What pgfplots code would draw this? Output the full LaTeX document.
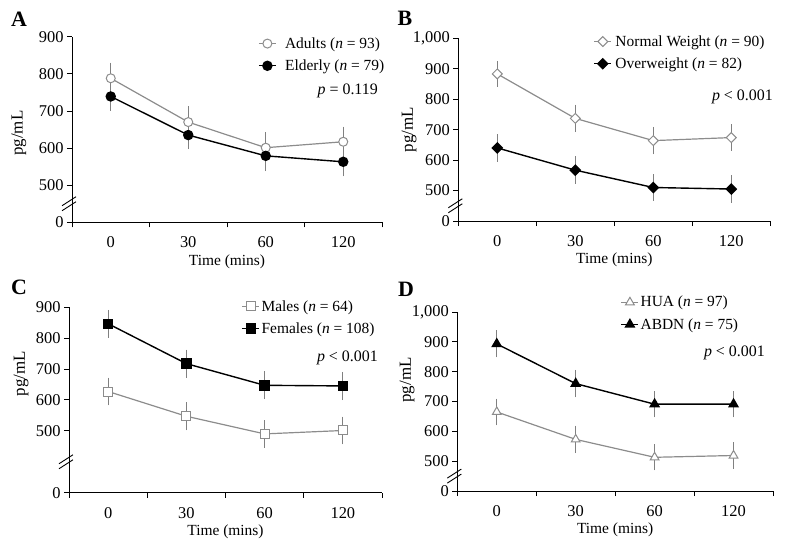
\documentclass[border=0pt]{standalone}
\usepackage{fontspec}
\setmainfont{Liberation Serif}
\usepackage{pgfplots}
\pgfplotsset{compat=1.18}

\definecolor{lgray}{HTML}{8C8C8C}
\definecolor{ebar}{HTML}{808080}

\newcommand{\fs}{\fontsize{15.5}{18}\selectfont}
\newcommand{\ft}{\fontsize{16.5}{19}\selectfont}

\pgfplotsset{
  panel/.style={
    scale only axis,
    clip=false,
    axis lines=left,
    axis line style={-, line width=0.8bp, black},
    xmin=-0.5, xmax=3.5,
    xtick={-0.5,0.5,1.5,2.5,3.5},
    xticklabels={},
    extra x ticks={0,1,2,3},
    extra x tick labels={0,30,60,120},
    extra x tick style={major tick length=0pt,
      xticklabel style={font=\ft, yshift=-11bp}},
    tick align=outside,
    major tick length=5bp,
    tick style={black, line width=0.8bp},
    yticklabel style={font=\ft},
    xlabel={Time (mins)},
    ylabel={pg/mL},
    xlabel style={font=\fs, at={(axis description cs:0.5,0)}, anchor=center, yshift=-39bp},
    legend style={draw=none, fill=none, font=\fs, anchor=north west,
      inner sep=0pt, nodes={inner sep=1.5bp, font=\fs}, row sep=7bp},
    legend cell align=left,
    legend image code/.code={\draw[#1, mark repeat=2, mark phase=2]
      plot coordinates {(0bp,0bp) (8.5bp,0bp) (17bp,0bp)};},
    error bars/y dir=both,
    error bars/y explicit,
    error bars/error bar style={ebar, line width=0.8bp},
    error bars/error mark options={ebar, line width=0.8bp, mark size=3bp},
  },
  gline/.style={lgray, line width=1.2bp,
    mark options={solid, fill=white, draw=lgray, line width=1bp}},
  bline/.style={black, line width=1.4bp,
    mark options={solid, fill=black, draw=black}},
}

% axis break: two short slashes across the y axis
\newcommand{\ybreak}[1]{%
  \draw[black, line width=0.9bp] ([shift={(-10bp,-7bp)}]axis cs:-0.5,#1) -- ++(14bp,9bp);
  \draw[black, line width=0.9bp] ([shift={(-10bp,-2bp)}]axis cs:-0.5,#1) -- ++(14bp,9bp);
}

\begin{document}
\begin{tikzpicture}
\path[use as bounding box] (0,0) rectangle (791bp,-545bp);

% ---- A ----
\begin{axis}[panel, at={(72bp,-222.3bp)}, anchor=south west,
  width=310bp, height=185.6bp,
  ymin=400, ymax=900,
  ytick={400,500,600,700,800,900},
  yticklabels={0,500,600,700,800,900},
  ylabel style={font=\fontsize{17}{20}\selectfont, at={(axis description cs:-0.171,0.48)}, anchor=center},
  legend style={at={(0.60,1.005)}, /tikz/every odd column/.append style={column sep=7bp}}]
\addplot[gline, mark=*, mark size=4.5bp] coordinates {
  (0,788) +- (0,34) (1,670) +- (0,35) (2,601) +- (0,33) (3,617) +- (0,33)};
\addplot[bline, mark=*, mark size=4.5bp] coordinates {
  (0,739) +- (0,31) (1,635) +- (0,30) (2,579) +- (0,33) (3,563) +- (0,31)};
\legend{{\fs Adults (\textit{n} = 93)}, {\fs Elderly (\textit{n} = 79)}}
\ybreak{450}
\end{axis}

% ---- B ----
\begin{axis}[panel, at={(458.3bp,-221bp)}, anchor=south west,
  width=312bp, height=182.7bp,
  ymin=400, ymax=1000,
  ytick={400,500,600,700,800,900,1000},
  yticklabels={0,500,600,700,800,900,{1,000}},
  ylabel style={font=\fontsize{17}{20}\selectfont, at={(axis description cs:-0.158,0.5)}, anchor=center},
  legend style={at={(0.433,1.025)}, /tikz/every odd column/.append style={column sep=2bp}}]
\addplot[gline, mark=square*, mark size=3.5bp,
  every mark/.append style={rotate=45}] coordinates {
  (0,883) +- (0,33) (1,737) +- (0,35) (2,664) +- (0,35) (3,674) +- (0,34)};
\addplot[bline, mark=square*, mark size=3.5bp,
  every mark/.append style={rotate=45}] coordinates {
  (0,640) +- (0,35) (1,567) +- (0,35) (2,510) +- (0,34) (3,505) +- (0,35)};
\legend{{\fs Normal Weight (\textit{n} = 90)}, {\fs Overweight (\textit{n} = 82)}}
\ybreak{450}
\end{axis}

% ---- C ----
\begin{axis}[panel, at={(69bp,-492.7bp)}, anchor=south west,
  width=313bp, height=185.7bp,
  ymin=300, ymax=900,
  ytick={300,500,600,700,800,900},
  yticklabels={0,500,600,700,800,900},
  ylabel style={font=\fontsize{17}{20}\selectfont, at={(axis description cs:-0.153,0.64)}, anchor=center},
  legend style={at={(0.551,1.045)}}]
\addplot[gline, mark=square*, mark size=4.5bp] coordinates {
  (0,627) +- (0,35) (1,547) +- (0,36) (2,490) +- (0,35) (3,501) +- (0,35)};
\addplot[bline, mark=square*, mark size=4.5bp] coordinates {
  (0,846) +- (0,35) (1,717) +- (0,36) (2,647) +- (0,35) (3,645) +- (0,36)};
\legend{{\fs Males (\textit{n} = 64)}, {\fs Females (\textit{n} = 108)}}
\ybreak{400}
\end{axis}

% ---- D ----
\begin{axis}[panel, at={(457.3bp,-491bp)}, anchor=south west,
  width=315.7bp, height=179bp,
  ymin=400, ymax=1000,
  ytick={400,500,600,700,800,900,1000},
  yticklabels={0,500,600,700,800,900,{1,000}},
  ylabel style={font=\fontsize{17}{20}\selectfont, at={(axis description cs:-0.159,0.62)}, anchor=center},
  legend style={at={(0.517,1.098)}}]
\addplot[gline, mark=triangle*, mark size=5bp] coordinates {
  (0,665) +- (0,35) (1,573) +- (0,36) (2,513) +- (0,34) (3,519) +- (0,34)};
\addplot[bline, mark=triangle*, mark size=5bp] coordinates {
  (0,893) +- (0,35) (1,760) +- (0,36) (2,691) +- (0,34) (3,691) +- (0,34)};
\legend{{\fs HUA (\textit{n} = 97)}, {\fs ABDN (\textit{n} = 75)}}
\ybreak{450}
\end{axis}

% p values
\node[anchor=east, inner sep=0pt, font=\fontsize{16}{19}\selectfont] at (378bp,-91bp) {\textit{p} = 0.119};
\node[anchor=east, inner sep=0pt, font=\fontsize{16}{19}\selectfont] at (773bp,-96.7bp) {\textit{p} < 0.001};
\node[anchor=east, inner sep=0pt, font=\fontsize{16}{19}\selectfont] at (378bp,-358bp) {\textit{p} < 0.001};
\node[anchor=east, inner sep=0pt, font=\fontsize{16}{19}\selectfont] at (765bp,-353bp) {\textit{p} < 0.001};

% panel letters
\node[font=\bfseries\fontsize{22}{24}\selectfont] at (19bp,-19bp) {A};
\node[font=\bfseries\fontsize{22}{24}\selectfont] at (405bp,-18bp) {B};
\node[font=\bfseries\fontsize{22}{24}\selectfont] at (19bp,-287bp) {C};
\node[font=\bfseries\fontsize{22}{24}\selectfont] at (406bp,-289bp) {D};
\end{tikzpicture}
\end{document}
